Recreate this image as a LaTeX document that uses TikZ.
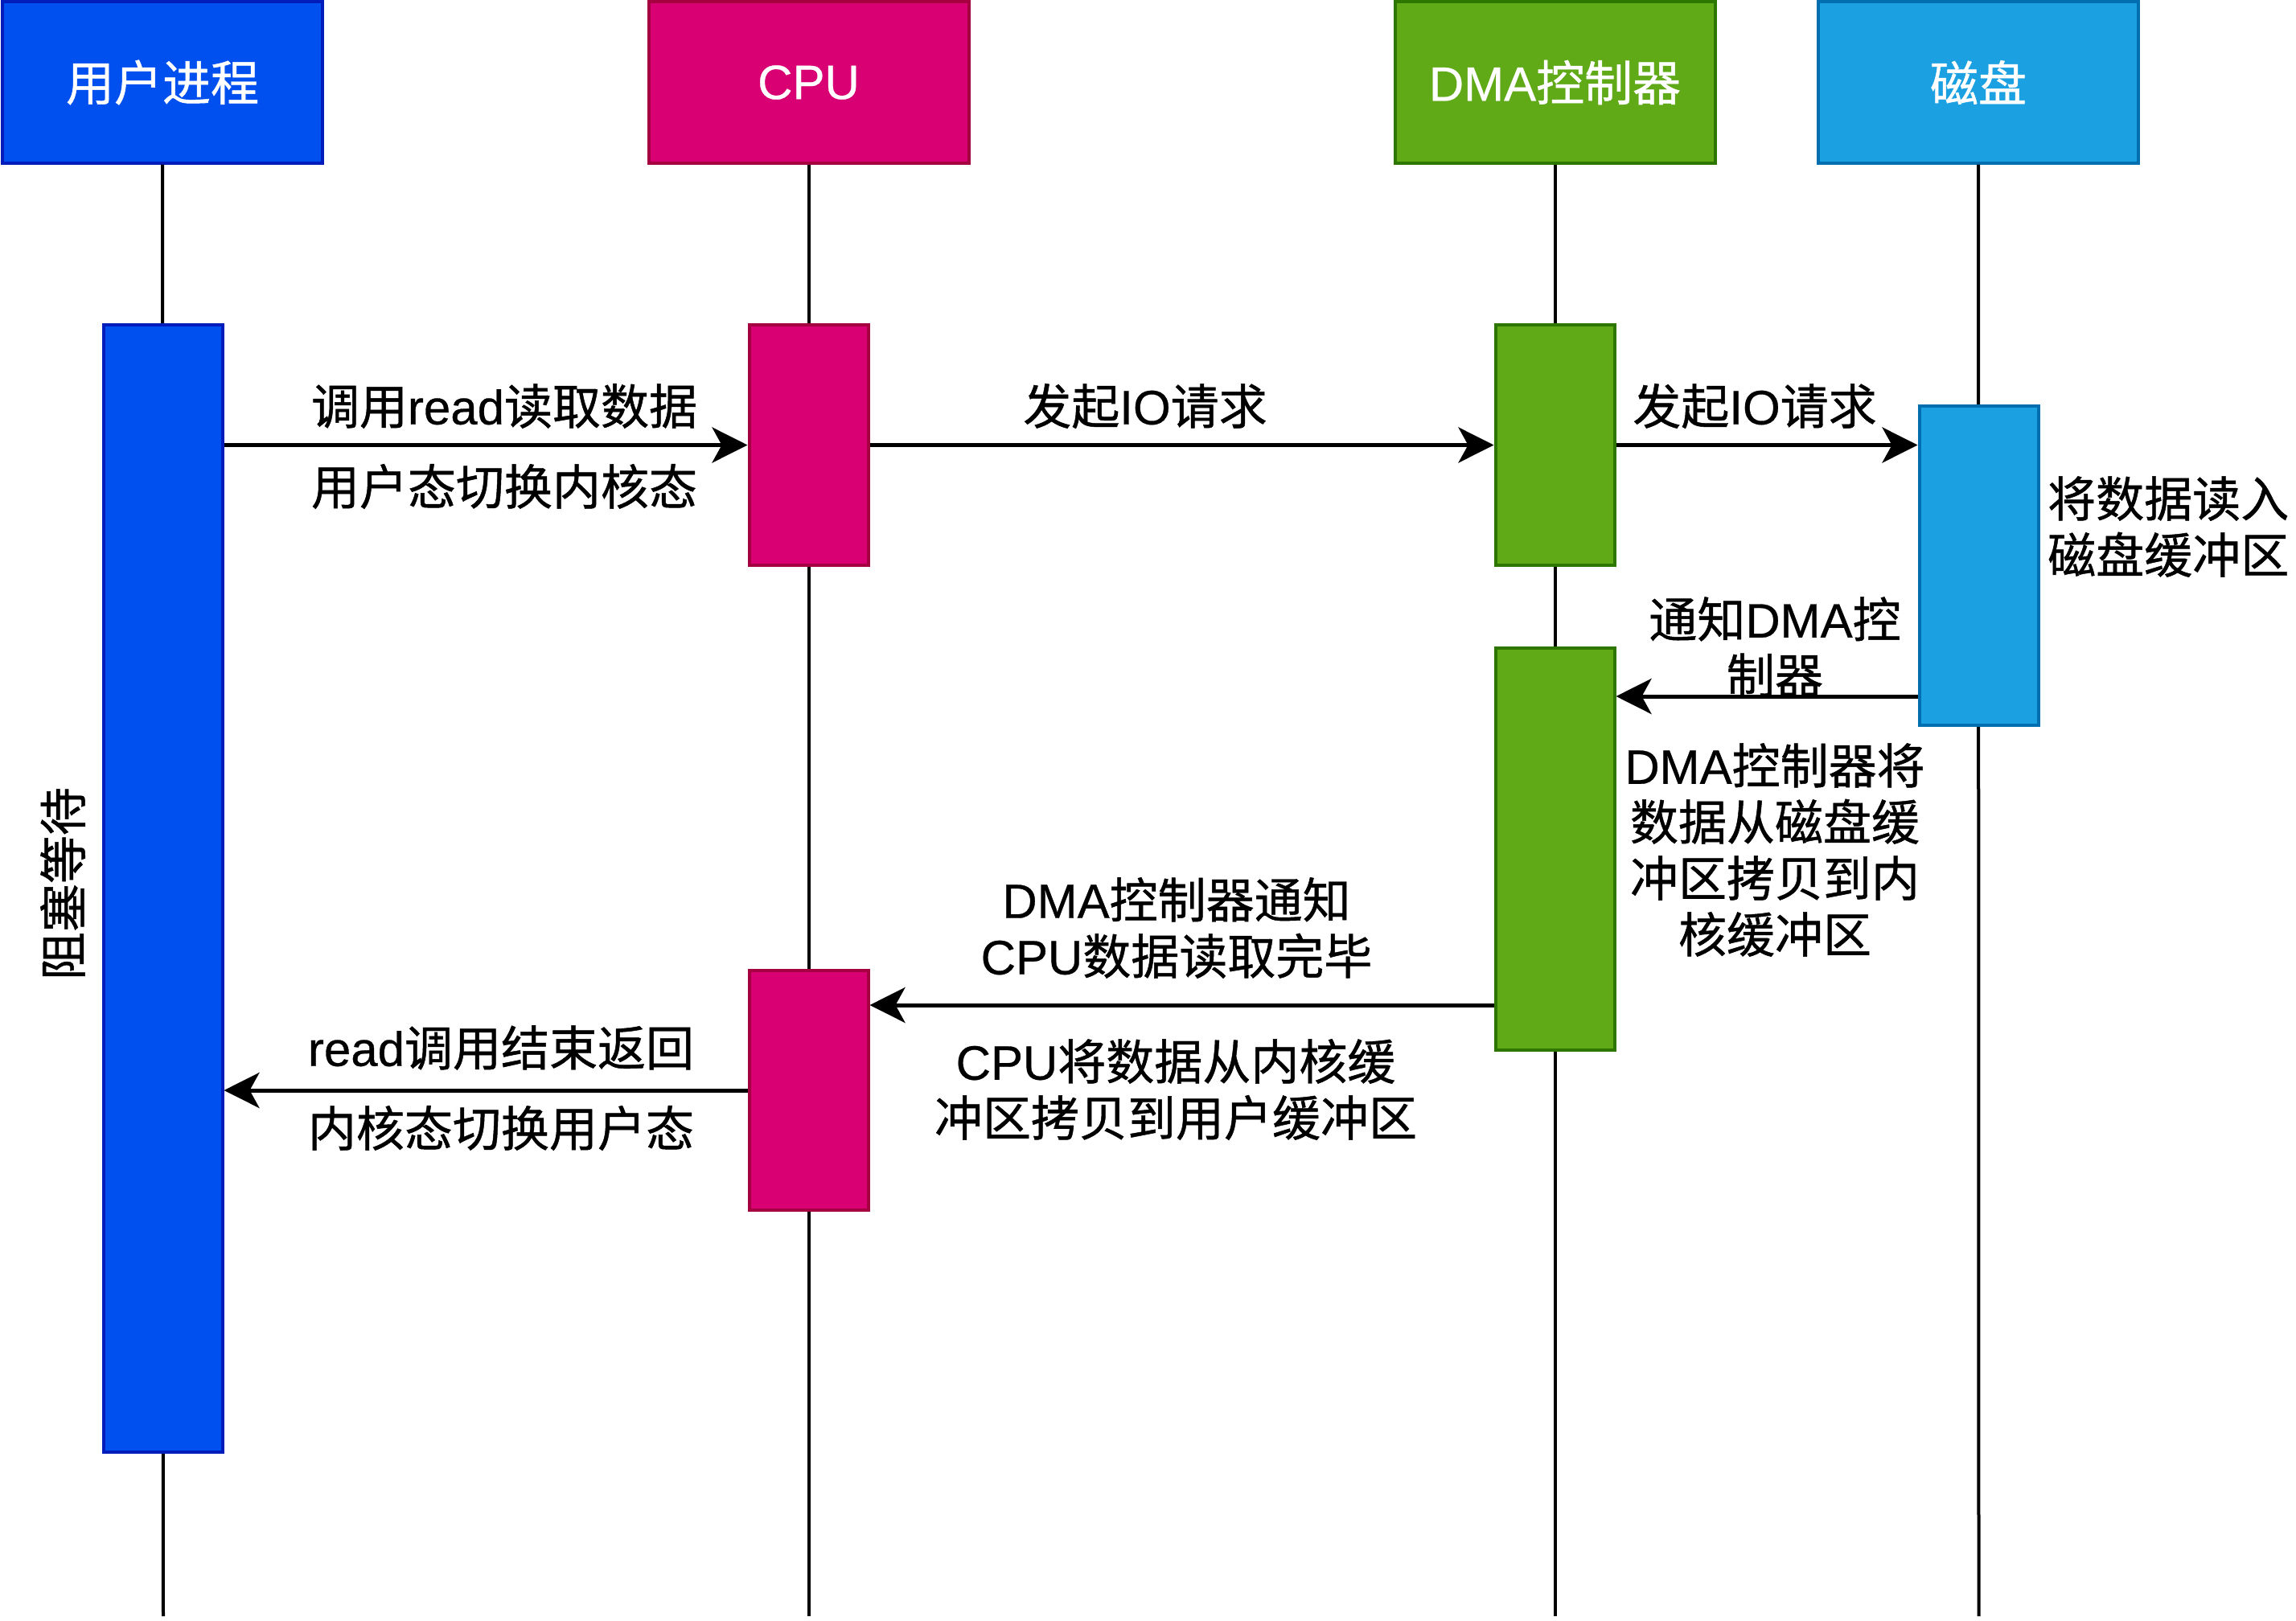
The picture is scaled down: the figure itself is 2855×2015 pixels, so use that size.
\documentclass[tikz,border=0pt]{standalone}
\usepackage{fontspec}
\setmainfont{Noto Sans CJK SC}[FakeBold=0.8]
\newfontfamily\lat{Liberation Sans}[FakeBold=0.5]
\usetikzlibrary{arrows.meta}
\definecolor{ufill}{HTML}{0050EF}\definecolor{uline}{HTML}{001DBC}
\definecolor{cfill}{HTML}{D80073}\definecolor{cline}{HTML}{A50040}
\definecolor{dfill}{HTML}{60A917}\definecolor{dline}{HTML}{2D7600}
\definecolor{kfill}{HTML}{1BA1E2}\definecolor{kline}{HTML}{006EAF}
\newcommand\lblfont{\fontsize{60}{70}\selectfont}
\tikzset{
  hdr/.style={draw, line width=4pt, minimum width=398pt, minimum height=200pt, inner sep=0pt, text=white, font=\lblfont},
  act/.style={draw, line width=4pt, minimum width=148pt, inner sep=0pt},
  life/.style={line width=4pt, black},
  arr/.style={line width=5pt, -{Stealth[length=44pt,width=44pt,inset=12pt]}},
  lbl/.style={inner sep=0pt, font=\lblfont, align=center},
}
\begin{document}
\begin{tikzpicture}[x=1pt,y=-1pt]
\useasboundingbox (0,0) rectangle (2855,2015);
% headers
\node[hdr, fill=ufill, draw=uline] (hU) at (202,102.5) {用户进程};
\node[hdr, fill=cfill, draw=cline] (hC) at (1005.5,102.5) {{\lat CPU}};
\node[hdr, fill=dfill, draw=dline] (hD) at (1933.5,102.5) {{\lat DMA}控制器};
\node[hdr, fill=kfill, draw=kline] (hK) at (2460,102.5) {磁盘};
% lifeline ends
\coordinate (eU) at (203,2010);
\coordinate (eC) at (1005.5,2010);
\coordinate (eD) at (1933.5,2010);
\coordinate (eK) at (2460.5,2010);
\draw[life] (hU.south) -- (eU);
\draw[life] (hC.south) -- (eC);
\draw[life] (hD.south) -- (eD);
\draw[life] (hK.south) -- (eK);
% activation boxes
\node[act, fill=ufill, draw=uline, minimum height=1402pt] (aU) at (202.5,1105) {};
\node[act, fill=cfill, draw=cline, minimum height=299pt] (aC1) at (1005.5,553.5) {};
\node[act, fill=dfill, draw=dline, minimum height=299pt] (aD1) at (1933.5,553.5) {};
\node[act, fill=kfill, draw=kline, minimum height=397pt] (aK) at (2460.5,703.5) {};
\node[act, fill=dfill, draw=dline, minimum height=500pt] (aD2) at (1933.5,1056) {};
\node[act, fill=cfill, draw=cline, minimum height=298pt] (aC2) at (1005.5,1356) {};
% messages
\draw[arr] (aU.east |- aC1.west) -- (aC1.west);
\draw[arr] (aC1.east) -- (aD1.west);
\draw[arr] (aD1.east) -- (aD1.east -| aK.west);
\coordinate (m4) at (0,866);
\draw[arr] (aK.west |- m4) -- (aD2.east |- m4);
\coordinate (m5) at (0,1250);
\draw[arr] (aD2.west |- m5) -- (aC2.east |- m5);
\draw[arr] (aC2.west) -- (aU.east |- aC2.west);
% labels
\node[lbl] (t1a) at (627,505) {调用{\lat read}读取数据};
\node[lbl] (t1b) at (627,605) {用户态切换内核态};
\node[lbl] (t2) at (1424,505) {发起{\lat IO}请求};
\node[lbl] (t3) at (2182,505) {发起{\lat IO}请求};
\node[lbl, align=left, anchor=west] (t4) at (2546,655) {将数据读入\\磁盘缓冲区};
\node[lbl] (t5) at (2207,805) {通知{\lat DMA}控\\制器};
\node[lbl] (t6) at (2207,1057) {{\lat DMA}控制器将\\数据从磁盘缓\\冲区拷贝到内\\核缓冲区};
\node[lbl] (t7) at (1463,1154) {{\lat DMA}控制器通知\\{\lat CPU}数据读取完毕};
\node[lbl] (t8) at (1462,1355) {{\lat CPU}将数据从内核缓\\冲区拷贝到用户缓冲区};
\node[lbl] (t9a) at (623,1303) {{\lat read}调用结束返回};
\node[lbl] (t9b) at (623,1403) {内核态切换用户态};
\node[lbl, rotate=90] (t10) at (78,1099) {阻塞等待};
\end{tikzpicture}
\end{document}
